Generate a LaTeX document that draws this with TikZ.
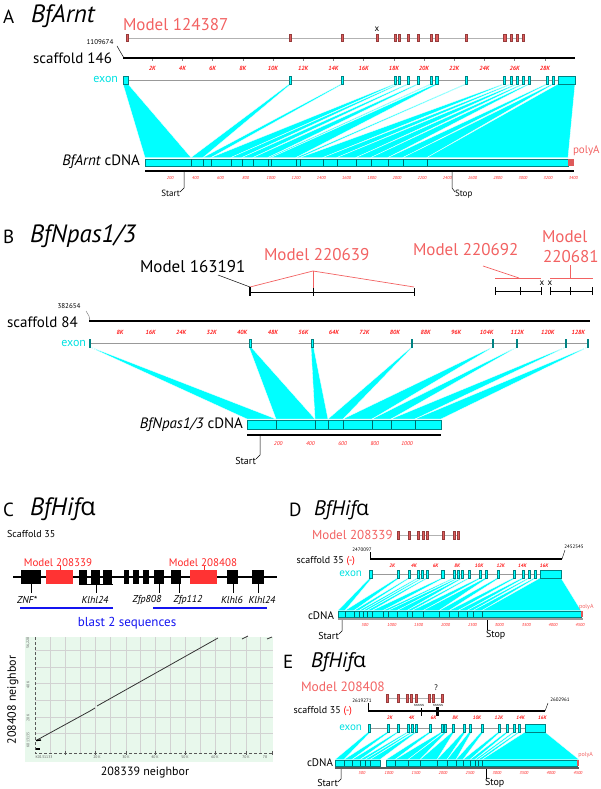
\documentclass[tikz,border=0pt]{standalone}
\usepackage{fontspec}
\setmainfont{PT Sans}
\newfontfamily\gkf{Open Sans}
\definecolor{fancy}{RGB}{0,255,255}
\definecolor{exedge}{RGB}{0,130,130}
\definecolor{extxt}{RGB}{0,225,225}
\definecolor{mred}{RGB}{242,98,98}
\definecolor{mfill}{RGB}{222,90,90}
\definecolor{medge}{RGB}{150,60,60}
\definecolor{tred}{RGB}{255,30,30}
\definecolor{plotbg}{RGB}{232,248,236}
\definecolor{bblue}{RGB}{20,20,240}
\newcommand{\fsz}[1]{\fontsize{#1}{#1}\selectfont}
\newcommand{\alp}{{\gkf\upshape α}}
\tikzset{
  fanpoly/.style={fill=fancy, draw=white, line width=0.3pt},
  exbox/.style={fill=fancy, draw=exedge, line width=0.4pt},
  mdtick/.style={fill=mfill, draw=medge, line width=0.3pt},
  thinline/.style={draw=gray!80, line width=0.6pt},
  scafline/.style={draw=black, line width=2pt},
  tlab/.style={text=tred, font=\fsz{6}\itshape\bfseries},
  clab/.style={text=tred, font=\fsz{4.3}\itshape},
  mtxt/.style={text=mred},
  leader/.style={draw=black, line width=0.5pt},
  cbar/.style={fill=fancy, draw=exedge, line width=0.3pt},
  segdiv/.style={draw=exedge!80!black, line width=0.3pt},
  gbox/.style={fill=black},
  rbox/.style={fill=red!80!white},
  gridc/.style={draw=gray!35, line width=0.4pt},
  plab/.style={text=gray!70!black, font=\fsz{3.8}}
}
\begin{document}
\begin{tikzpicture}[x=1pt,y=-1pt, every node/.style={inner sep=0pt, outer sep=0pt}]
\useasboundingbox (0,0) rectangle (600,789);

% ================= PANEL A =================
\node[anchor=west] (la) at (3,17) {\fsz{19}A};
\node[anchor=west] (ta) at (31,16) {\fsz{25}\itshape BfArnt};
\node[mtxt, anchor=west] (ma) at (123,25) {\fsz{17}Model 124387};
\draw[thinline, draw=gray!60] (127,38) -- (524,38);
\foreach \l/\r in {126/128,289/291,341/343,376/378,394/396,398/400,407/409,417/419,430/432,435/438,465/467,503/506,510/512,516/518,522/524}
  \draw[mdtick] (\l,34.5) rectangle (\r,41.5);
\node (xa) at (377,29) {\fsz{9}x};
\node (na) at (100,42) {\fsz{7}1109674};
\draw[leader] (117,46) -- (121,53) -- (124,58);
\node[anchor=west] (sa) at (33,58) {\fsz{15}scaffold 146};
\draw[scafline] (123,58) -- (575,58);
\foreach \k in {2,4,...,28} {
  \draw[gray, line width=0.4pt] ({122+15.1*\k},59.5) -- ({122+15.1*\k},61.5);
  \node[tlab] (ka\k) at ({122+15.1*\k},68) {\k K};
}
\node[anchor=east, text=extxt] (ea) at (118,80) {\fsz{12}exon};
\draw[thinline] (123,80) -- (575,80);
\foreach \a/\b/\c/\d in {123/128/145/191,289/291/191/203,341/343/203/211,394/396/211/231,398/400/231/242,407/409/242/253,417/419/253/268,430/432/268/271,435/438/271/296,465/467/296/300,503/505/300/323,510/512/323/337,516/518/337/356,522/524/356/371,528/530/371/388,546/548/388/403,552/554/403/427,558/575/427/568}
  \fill[fanpoly] (\a,84) -- (\b,84) -- (\d,157.5) -- (\c,157.5) -- cycle;
\foreach \a/\b in {123/128,289/291,341/343,394/396,398/400,407/409,417/419,430/432,435/438,465/467,503/505,510/512,516/518,522/524,528/530,546/548,552/554,558/575}
  \draw[exbox] (\a,76) rectangle (\b,84);
\draw[cbar] (145,159) rectangle (568,166);
\fill[mfill] (568,159) rectangle (574,166);
\foreach \x in {191,203,211,231,242,253,268,271,296,300,323,337,356,371,388,403,427}
  \draw[segdiv] (\x,159) -- (\x,166);
\node[mtxt, anchor=west] (pa) at (573,151) {\fsz{11}polyA};
\node[anchor=east] (ca) at (140,162) {\fsz{15}{\itshape BfArnt} cDNA};
\draw[draw=black, line width=1.6pt] (145,171) -- (574,171);
\foreach \n in {200,400,...,3400}
  \node[clab] (cla\n) at ({145+25.2*(\n/200)},178) {\n};
\draw[leader] (184,172) -- (184,188) -- (180,192);
\node[anchor=east] (sta) at (180,193) {\fsz{9}Start};
\draw[leader] (452,172) -- (452,188) -- (455,192);
\node[anchor=west] (spa) at (455,194) {\fsz{9}Stop};

% ================= PANEL B =================
\node[anchor=west] (lb) at (3,237) {\fsz{19}B};
\node[anchor=west] (tb) at (30,236) {\fsz{25}\itshape BfNpas1/3};
\node[anchor=west] (m1) at (140,267) {\fsz{17}Model 163191};
\draw[leader] (218,275) -- (250,287);
\node[mtxt, anchor=west] (m2) at (264,255) {\fsz{17}Model 220639};
\draw[draw=mred, line width=0.7pt] (250,287) -- (313,271) -- (414,287);
\draw[draw=mred, line width=0.7pt] (313,271) -- (313,288);
\draw[draw=black, line width=0.8pt] (250,292) -- (414,292);
\draw[draw=black, line width=1.4pt] (250,287) -- (250,296);
\foreach \x in {313,414} \draw[draw=black, line width=0.6pt] (\x,288) -- (\x,296);
\node[mtxt, anchor=west] (m3) at (413,250) {\fsz{17}Model 220692};
\draw[draw=mred, line width=0.7pt] (483,266) -- (519,278);
\draw[draw=mred, line width=0.7pt] (495,278) -- (541,278);
\draw[draw=black, line width=0.8pt] (495,291) -- (541,291);
\foreach \x in {495,520,541} \draw[draw=black, line width=0.6pt] (\x,287) -- (\x,295);
\node (x1) at (542,283) {\fsz{9}x};
\node (x2) at (550,283) {\fsz{9}x};
\node[mtxt, anchor=west] (m4a) at (542,237) {\fsz{17}Model};
\node[mtxt, anchor=west] (m4b) at (543,257) {\fsz{17}220681};
\draw[draw=mred, line width=0.7pt] (570,265) -- (570,278);
\draw[draw=mred, line width=0.7pt] (550,278) -- (593,278);
\draw[draw=black, line width=0.8pt] (550,291) -- (592,291);
\foreach \x in {550,570,592} \draw[draw=black, line width=0.6pt] (\x,287) -- (\x,295);
\node (nb) at (69,306) {\fsz{7}382654};
\draw[leader, draw=gray] (86,311) -- (89,316) -- (90,321);
\node[anchor=west] (sb) at (7,322) {\fsz{15}scaffold 84};
\draw[scafline] (89,321) -- (590,321);
\foreach \k in {8,16,...,128}
  \node[tlab] (kb\k) at ({89.5+30.55*(\k/8)},332) {\k K};
\node[anchor=east, text=extxt] (eb) at (86,343) {\fsz{12}exon};
\draw[thinline] (90,343) -- (588,343);
\foreach \a/\b/\c/\d in {89.5/90.5/247/276,249/251/276/315,311/313.5/315/328,411.5/412.5/328/343,492.5/493.5/343/372,516.5/517.5/372/391,565.5/566.5/391/415,587.5/588.5/415/441}
  \fill[fanpoly] (\a,347) -- (\b,347) -- (\d,419) -- (\c,419) -- cycle;
\foreach \a/\b in {89.5/90.5,249/251,311/313.5,411.5/412.5,492.5/493.5,516.5/517.5,565.5/566.5,587.5/588.5}
  \draw[exbox] (\a,339) rectangle (\b,347);
\draw[cbar] (247,420) rectangle (441,429);
\foreach \x in {276,315,328,343,372,391,415}
  \draw[segdiv] (\x,420) -- (\x,429);
\node[anchor=east] (cb) at (243,425) {\fsz{15}{\itshape BfNpas1/3} cDNA};
\draw[draw=black, line width=1.6pt] (247,435) -- (441,435);
\foreach \n in {200,400,...,1000}
  \node[clab, font=\fsz{5.5}\itshape] (clb\n) at ({246+32.2*(\n/200)},444) {\n};
\draw[leader] (260,436) -- (260,455) -- (256,459);
\node[anchor=east] (stb) at (256,461) {\fsz{10}Start};

% ================= PANEL C =================
\node[anchor=west] (lc) at (3,510) {\fsz{19}C};
\node[anchor=west] (tc) at (30,509) {\fsz{25}\itshape BfHif\alp};
\node[anchor=west] (scc) at (7,534) {\fsz{10}Scaffold 35};
\draw[scafline] (13,577) -- (277,577);
\foreach \l/\r in {21/41,79/87,91/100,103/112,124/129,133/139,143/149,154/164,171/181,227/238,252/264}
  \fill[gbox] (\l,570) rectangle (\r,584);
\fill[rbox] (46,570) rectangle (73,584);
\fill[rbox] (190,570) rectangle (217,584);
\node[text=red!85!white, anchor=south] (mc1) at (58,567) {\fsz{11}Model 208339};
\node[text=red!85!white, anchor=south] (mc2) at (203,567) {\fsz{11}Model 208408};
\draw[draw=red!85!white, line width=0.6pt] (60,566) -- (60,570);
\draw[draw=red!85!white, line width=0.6pt] (204,566) -- (204,570);
\draw[leader] (31,584) -- (31,593);
\draw[leader] (79,584.5) -- (113,584.5);
\draw[leader] (96,584.5) -- (96,593);
\foreach \x in {159,179,233,258} \draw[leader] (\x,584) -- (\x,593);
\node (g1) at (27,600) {\fsz{10}\itshape ZNF*};
\node (g2) at (95,600) {\fsz{10}\itshape Klhl24};
\node (g3) at (147,600) {\fsz{10}\itshape Zfp808};
\node (g4) at (188,600) {\fsz{10}\itshape Zfp112};
\node (g5) at (232,600) {\fsz{10}\itshape Klhl6};
\node (g6) at (262,600) {\fsz{10}\itshape Klhl24};
\draw[draw=bblue, line width=1.6pt] (20,608) -- (113,608);
\draw[draw=bblue, line width=1.6pt] (153,608) -- (267,608);
\node[text=bblue] (bl) at (127,623) {\fsz{13}blast 2 sequences};
% dot plot
\fill[plotbg] (25,637) rectangle (273,762);
\foreach \x in {50,65,80,95,110,126,140,155,170,185,200,215,230,246,260}
  \draw[gridc] (\x,637) -- (\x,753);
\foreach \y in {650,667,683,700,717,733}
  \draw[gridc] (35,\y) -- (273,\y);
\draw[draw=gray!70!black, line width=0.5pt, densely dashed] (35,637) -- (35,753) -- (272,753);
\foreach \x in {65,95,126,155,185,215,246,272} \draw[draw=gray!70!black, line width=0.4pt] (\x,751) -- (\x,755);
\draw[draw=black!80, line width=0.8pt] (37,740) -- (90,711) -- (95,708);
\draw[draw=black!80, line width=0.8pt] (97,706) -- (218,638);
\draw[draw=black!80, line width=0.8pt] (242,639) -- (248,636);
\draw[draw=black!80, line width=0.8pt] (267,639) -- (272,637);
\draw[draw=black, line width=1.4pt] (36,740.5) -- (41,740);
\draw[draw=black, line width=1.4pt] (36,749) -- (40,749);
\node[plab] (px0) at (44,757) {K0131133};
\foreach \x/\t in {97/20 K,126/30 K,155/40 K,185/50 K,215/60 K,246/70 K,265/78,734}
  \node[plab] at (\x,757) {\t};
\node[plab, rotate=90] (py1) at (28,643) {56,228};
\node[plab, rotate=90] (py2) at (28,685) {40 K};
\node[plab, rotate=90] (py3) at (28,718) {20 K};
\node[plab, rotate=90] (py4) at (28,740) {K013135};
\node[rotate=90] (yl) at (13,700) {\fsz{12}208408 neighbor};
\node (xl) at (145,772) {\fsz{12}208339 neighbor};

% ================= PANEL D =================
\node[anchor=west] (ld) at (289,510) {\fsz{19}D};
\node[anchor=west] (td) at (314,510) {\fsz{21}\itshape BfHif\alp};
\node[mtxt, anchor=west] (md) at (312,535) {\fsz{13}Model 208339};
\draw[thinline, draw=gray!60] (398,535) -- (458,535);
\foreach \x in {398,409,418,423,427,443,454,458}
  \draw[mdtick] (\x-1,531) rectangle (\x+1,539);
\node (nd1) at (362,550) {\fsz{5}2470097};
\draw[leader, line width=0.4pt] (370,552) -- (370,559);
\node (nd2) at (574,547) {\fsz{5}2452545};
\draw[leader, line width=0.4pt] (562,559) -- (565,550);
\node[anchor=east] (sd) at (355,561) {\fsz{10}scaffold 35 \textcolor{red}{(-)}};
\draw[draw=black, line width=1.5pt] (370,559) -- (562,559);
\foreach \k in {2,4,...,16}
  \node[tlab, font=\fsz{5}\itshape\bfseries] (kd\k) at ({370.5+10.85*\k},566) {\k K};
\node[anchor=east, text=extxt] (ed) at (362,574) {\fsz{11}exon};
\draw[thinline] (370,574) -- (561,574);
\foreach \a/\b/\c/\d in {369.5/372/338/345,397/399.5/345/354,408/410/354/359,417/419/359/363,421/423/363/367,426/428/367/372,441.5/444/372/383,453/455/383/388,457/459/388/397,461/463/397/407,468/470/407/412,479/481.5/412/423,485/487.5/423/439,497/499.5/439/449,513/515.5/449/458,522/524.5/458/467,528/530/467/473,534/536/473/482,540/561/482/581}
  \fill[fanpoly] (\a,578) -- (\b,578) -- (\d,610.5) -- (\c,610.5) -- cycle;
\foreach \a/\b in {369.5/372,397/399.5,408/410,417/419,421/423,426/428,441.5/444,453/455,457/459,461/463,468/470,479/481.5,485/487.5,497/499.5,513/515.5,522/524.5,528/530,534/536,540/561}
  \draw[exbox] (\a,570) rectangle (\b,578);
\draw[cbar] (338,611) rectangle (581,617);
\fill[mfill] (581,611) rectangle (583,617);
\foreach \x in {345,354,359,363,367,372,383,388,397,407,412,423,439,449,458,467,473,482}
  \draw[segdiv] (\x,611) -- (\x,617);
\draw[draw=gray!80, line width=1.5pt] (338,619) -- (583,619);
\foreach \n in {500,1000,...,4500}
  \node[clab] (cld\n) at ({338+26.9*(\n/500)},625) {\n};
\node[anchor=east] (cd) at (334,616) {\fsz{11}cDNA};
\node[mtxt, anchor=west] (pd) at (579,607) {\fsz{6}polyA};
\draw[leader] (342,620) -- (342,631) -- (339,634);
\node[anchor=east] (std) at (339,636) {\fsz{10}Start};
\draw[leader] (487,620) -- (487,630);
\node[anchor=west] (spd) at (486,635) {\fsz{10}Stop};

% ================= PANEL E =================
\node[anchor=west] (le) at (283,662) {\fsz{19}E};
\node[anchor=west] (te) at (311,662) {\fsz{21}\itshape BfHif\alp};
\node[mtxt, anchor=west] (me) at (301,687) {\fsz{13.5}Model 208408};
\draw[thinline, draw=gray!60] (387,698) -- (443,698);
\foreach \x in {387,398,407,411,416,429,433,442}
  \draw[mdtick] (\x-1,694) rectangle (\x+1,702);
\node (qe) at (436,688) {\fsz{8}?};
\node (ne1) at (362,701) {\fsz{5}2619271};
\draw[leader, line width=0.4pt] (368,703) -- (368,711);
\node (ne2) at (560,700) {\fsz{5}2602961};
\draw[leader, line width=0.4pt] (545,711) -- (548,703);
\node[anchor=east] (se) at (352,711) {\fsz{10}scaffold 35 \textcolor{red}{(-)}};
\draw[draw=black, line width=1.5pt] (368,711) -- (545,711);
\node (nn1) at (419,705) {\fsz{3}NNNNN};
\node (nn2) at (438,705) {\fsz{3}NNNNN};
\draw[draw=black, line width=0.5pt] (421,708) -- (421,716);
\fill[black] (436,707) rectangle (439,716);
\foreach \k in {2,4,...,16}
  \node[tlab, font=\fsz{5}\itshape\bfseries] (ke\k) at ({368+10.9*\k},718) {\k K};
\node[anchor=east, text=extxt] (ee) at (362,728) {\fsz{11}exon};
\draw[thinline] (368,728) -- (545,728);
\foreach \a/\b/\c/\d in {368/370.5/335/344,387/389.5/344/352,397/399/352/360,407/409/360/365,411/413/365/370,415/417/370/380,429/431.5/386/395,441/443.5/395/408,444.5/446.5/408/420,452/454/420/437,463/465.5/437/447,469/471.5/447/456,481/483.5/456/463,498/500.5/463/470,506/508.5/470/475,513/515/475/478,518/520/478/482,525/545/482/579}
  \fill[fanpoly] (\a,732) -- (\b,732) -- (\d,759.5) -- (\c,759.5) -- cycle;
\foreach \a/\b in {368/370.5,387/389.5,397/399,407/409,411/413,415/417,429/431.5,441/443.5,444.5/446.5,452/454,463/465.5,469/471.5,481/483.5,498/500.5,506/508.5,513/515,518/520,525/545}
  \draw[exbox] (\a,724) rectangle (\b,732);
\draw[cbar] (335,760) rectangle (380,766);
\draw[cbar] (386,760) rectangle (577,766);
\fill[mfill] (577,760) rectangle (579,766);
\foreach \x in {344,352,360,365,370,395,408,420,437,447,456,463,470,475,478,482}
  \draw[segdiv] (\x,760) -- (\x,766);
\draw[draw=gray!70!black, line width=1.5pt] (335,768) -- (579,768);
\foreach \n in {500,1000,...,4500}
  \node[clab] (cle\n) at ({335+27*(\n/500)},773) {\n};
\node[anchor=east] (ce) at (333,763) {\fsz{11}cDNA};
\node[mtxt, anchor=east] (pe) at (593,755) {\fsz{6}polyA};
\draw[leader] (341,769) -- (341,779) -- (338,782);
\node[anchor=east] (ste) at (338,782.5) {\fsz{10}Start};
\draw[leader] (486,769) -- (486,779);
\node[anchor=west] (spe) at (485,782.5) {\fsz{10}Stop};
\end{tikzpicture}
\end{document}
